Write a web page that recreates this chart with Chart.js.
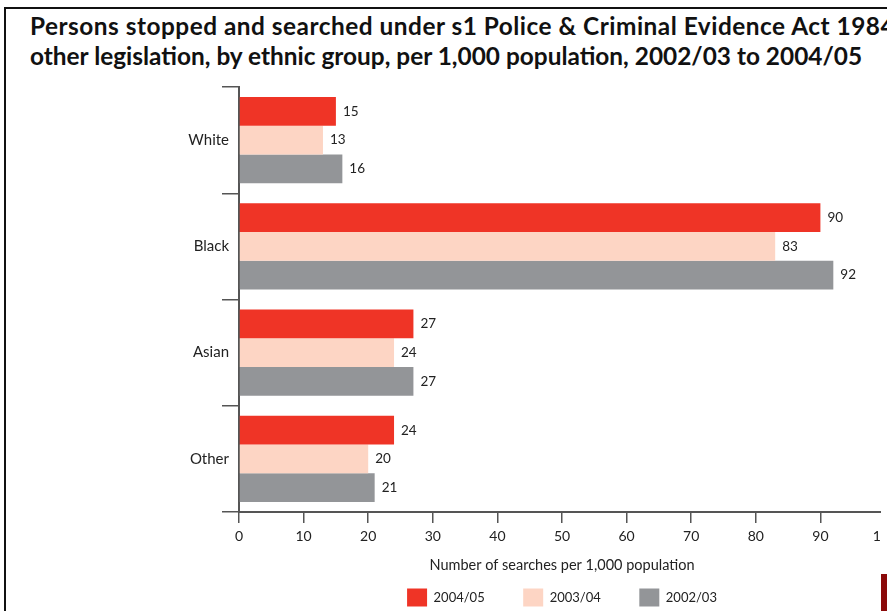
<!DOCTYPE html>
<html>
<head>
<meta charset="utf-8">
<script src="https://cdn.jsdelivr.net/npm/chart.js@4/dist/chart.umd.min.js"></script>
<style>
  html, body { margin: 0; padding: 0; width: 887px; height: 611px; overflow: hidden; background: #fff; }
  #frame { position: absolute; left: 4px; top: 7px; width: 1000px; height: 700px;
           border-left: 2px solid #111; border-top: 2px solid #111; }
  #title { position: absolute; left: 30px; top: 11px; font: bold 24.4px Lato, sans-serif;
           line-height: 30px; white-space: nowrap; color: #111; }
  #title .l1 { letter-spacing: 0.5px; }
  #wrap { position: absolute; left: 0; top: 0; width: 881px; height: 611px; overflow: hidden; }
  #edge { position: absolute; left: 881px; top: 574px; width: 6px; height: 37px; background: #8b0a0a; }
</style>
</head>
<body>
<div id="frame"></div>
<div id="title"><span class="l1">Persons stopped and searched under s1 Police &amp; Criminal Evidence Act 1984 and</span><br>other legislation, by ethnic group, per 1,000 population, 2002/03 to 2004/05</div>
<div id="wrap"><canvas id="c" width="960" height="611"></canvas></div>
<div id="edge"></div>
<script>
// Ethnic groups and the three reporting years
const groups = ['White', 'Black', 'Asian', 'Other'];
const years = ['2004/05', '2003/04', '2002/03'];

// Searches per 1,000 population
const rate2004_05 = [15, 90, 27, 24];
const rate2003_04 = [13, 83, 24, 20];
const rate2002_03 = [16, 92, 27, 21];

// Horizontal axis range and step
const xMin = 0;
const xMax = 100;
const xStep = 10;

const yearColours = ['#ef3426', '#fdd5c4', '#939598'];
const axisColour = '#555';
const textColour = '#222';
const baseFont = 'Lato, sans-serif';

// Writes each bar's value just past its end
const barValueLabels = {
  id: 'barValueLabels',
  afterDatasetsDraw(chart) {
    const ctx = chart.ctx;
    ctx.save();
    ctx.font = '13.5px ' + baseFont;
    ctx.fillStyle = textColour;
    ctx.textAlign = 'left';
    ctx.textBaseline = 'middle';
    chart.data.datasets.forEach((ds, i) => {
      chart.getDatasetMeta(i).data.forEach((bar, j) => {
        ctx.fillText(String(ds.data[j]), bar.x + 7, bar.y);
      });
    });
    ctx.restore();
  }
};

new Chart(document.getElementById('c'), {
  type: 'bar',
  data: {
    labels: groups,
    datasets: [rate2004_05, rate2003_04, rate2002_03].map((values, i) => ({
      label: years[i],
      data: values,
      backgroundColor: yearColours[i],
      borderWidth: 0,
      barPercentage: 1,
      categoryPercentage: 0.81
    }))
  },
  options: {
    indexAxis: 'y',
    responsive: false,
    animation: false,
    devicePixelRatio: 1,
    layout: { padding: { top: 87, right: 75, left: 0, bottom: 0 } },
    plugins: {
      title: { display: false },
      tooltip: { enabled: false },
      legend: {
        position: 'bottom',
        fullSize: false,
        maxHeight: 61,
        labels: {
          boxWidth: 20,
          boxHeight: 18,
          padding: 38.5,
          color: textColour,
          font: { family: baseFont, size: 13 }
        }
      }
    },
    scales: {
      x: {
        min: xMin,
        max: xMax,
        ticks: { stepSize: xStep, color: textColour, padding: 5, font: { family: baseFont, size: 14 } },
        grid: { drawOnChartArea: false, tickLength: 11, color: axisColour, lineWidth: 1.5 },
        border: { color: axisColour, width: 2 },
        title: {
          display: true,
          text: 'Number of searches per 1,000 population',
          color: textColour,
          font: { family: baseFont, size: 14.5 },
          padding: { top: 0, bottom: -24 }
        },
        afterFit(scale) { scale.height = 38; }
      },
      y: {
        offset: true,
        ticks: { color: textColour, padding: -7, font: { family: baseFont, size: 15 } },
        grid: { offset: true, drawOnChartArea: false, tickLength: 17, color: axisColour, lineWidth: 1.5 },
        border: { color: axisColour, width: 2 },
        afterFit(scale) { scale.width = 239; }
      }
    }
  },
  plugins: [barValueLabels]
});
</script>
</body>
</html>
